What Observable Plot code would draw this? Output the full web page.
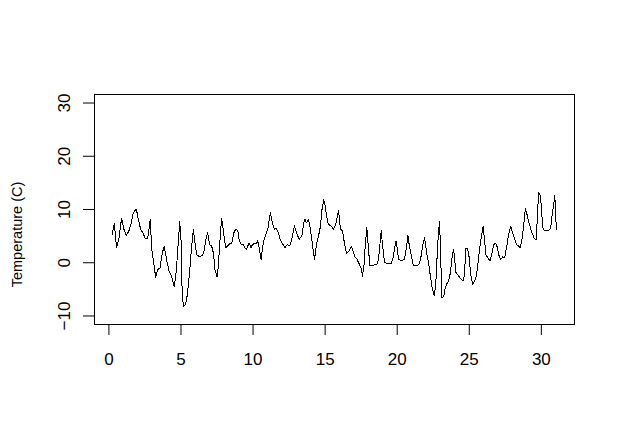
<!DOCTYPE html>
<html>
<head>
<meta charset="utf-8">
<script src="https://cdn.jsdelivr.net/npm/d3@7"></script>
<script src="https://cdn.jsdelivr.net/npm/@observablehq/plot@0.6"></script>
<style>
  html, body { margin: 0; padding: 0; background: #ffffff; }
  #chart svg { font-family: "Liberation Sans", Arial, sans-serif; }
</style>
</head>
<body>
<div id="chart"></div>
<script>
const days = [
  0.23,0.37,0.53,0.69,0.88,1.04,1.20,1.39,1.53,1.69,1.90,2.04,2.20,2.38,2.52,2.69,2.87,2.96,3.08,3.24,
  3.38,3.54,3.70,3.84,4.00,4.17,4.35,4.54,4.68,4.81,4.91,5.00,5.09,5.20,5.28,5.39,5.51,5.63,5.74,5.86,
  5.97,6.09,6.25,6.44,6.57,6.71,6.85,6.99,7.13,7.25,7.36,7.50,7.59,7.71,7.82,7.96,8.10,8.24,8.38,8.52,
  8.66,8.80,8.94,9.03,9.17,9.31,9.40,9.54,9.63,9.72,9.86,9.95,10.09,10.23,10.32,10.42,10.56,10.65,10.74,10.93,
  11.02,11.20,11.34,11.48,11.62,11.76,11.88,12.04,12.22,12.36,12.55,12.69,12.87,13.03,13.19,13.38,13.52,13.61,13.70,13.84,
  13.98,14.12,14.26,14.40,14.54,14.68,14.77,14.91,15.00,15.14,15.23,15.42,15.58,15.74,15.93,16.06,16.20,16.34,16.48,16.67,
  16.81,16.94,17.04,17.20,17.36,17.50,17.59,17.69,17.78,17.89,18.01,18.10,18.24,18.43,18.59,18.70,18.80,18.89,18.98,19.12,
  19.28,19.44,19.58,19.68,19.79,19.91,20.02,20.09,20.23,20.37,20.51,20.65,20.74,20.83,20.97,21.11,21.30,21.48,21.62,21.76,
  21.90,22.06,22.18,22.29,22.41,22.52,22.59,22.69,22.78,22.87,22.94,23.01,23.10,23.22,23.33,23.45,23.56,23.68,23.80,23.91,
  23.98,24.07,24.21,24.38,24.49,24.61,24.68,24.77,24.88,25.00,25.09,25.23,25.37,25.49,25.60,25.74,25.88,25.97,26.06,26.16,
  26.30,26.44,26.57,26.69,26.81,26.92,27.04,27.18,27.31,27.45,27.62,27.73,27.87,28.01,28.15,28.29,28.43,28.54,28.66,28.77,
  28.89,28.98,29.07,29.21,29.35,29.49,29.63,29.72,29.81,29.91,30.00,30.09,30.19,30.32,30.51,30.65,30.74,30.86,30.93,30.97,
  31.02,31.06
];
const temps = [
  5.3,7.4,2.9,4.5,8.4,6.3,5.1,6.0,7.2,9.4,10.1,8.2,6.3,5.5,4.5,4.5,8.2,2.8,0.6,-2.7,
  -1.3,-1.0,1.8,3.1,0.6,-1.6,-2.6,-4.5,-1.3,3.7,7.7,4.4,-6.7,-8.2,-8.0,-7.0,-4.2,-0.7,3.1,6.3,
  3.7,1.5,1.2,1.3,1.8,4.1,5.6,3.4,3.1,1.8,-1.3,-2.6,-0.7,4.4,8.4,5.6,2.8,3.2,3.6,3.7,
  5.6,6.3,6.1,4.4,3.4,3.4,3.0,2.4,3.1,3.7,2.8,3.4,3.6,3.6,4.1,2.8,0.5,2.8,4.1,5.6,
  6.3,9.4,7.5,6.3,6.4,5.6,4.4,3.6,2.8,3.4,3.2,4.4,6.9,5.6,4.4,5.0,7.5,8.2,7.5,8.2,
  6.3,3.4,0.6,3.4,5.0,6.9,9.8,11.8,10.7,8.2,7.2,6.9,6.3,7.2,9.9,6.3,6.0,3.7,1.8,2.2,
  3.1,2.2,1.2,0.7,-0.2,-1.0,-2.5,-0.7,3.1,6.6,2.5,-0.5,-0.6,-0.4,-0.4,0.6,3.4,6.0,3.4,0.1,
  -0.1,-0.1,-0.1,0.5,2.2,4.1,2.5,0.6,0.5,0.5,0.7,3.1,5.1,3.4,1.5,-0.4,-0.6,-0.4,0.6,3.1,
  4.7,1.5,-0.1,-2.3,-4.5,-5.8,-6.1,-3.2,1.8,6.0,7.7,1.8,-6.5,-6.4,-4.8,-3.9,-3.5,-2.0,0.9,2.5,
  0.9,-1.8,-2.3,-2.9,-3.2,-3.4,-1.3,2.7,2.7,0.9,-2.0,-4.0,-3.4,-2.6,-0.1,3.1,5.6,6.9,4.1,1.5,
  0.9,0.3,1.8,3.4,3.7,3.1,1.5,0.6,1.1,0.9,3.4,5.3,6.9,5.6,4.4,3.4,3.1,2.8,4.4,6.9,
  10.2,9.4,8.2,6.9,5.6,4.7,4.3,8.2,13.2,12.7,10.7,6.6,6.1,6.0,6.0,6.6,8.8,11.0,12.6,10.7,
  7.5,6.3
];
const xTicks = [0, 5, 10, 15, 20, 25, 30];
const yTicks = [-10, 0, 10, 20, 30];
const yTitle = ["Temperature (C)"];

const rows = days.map((d, i) => ({day: d, temp: temps[i]}));

const chart = Plot.plot({
  width: 623,
  height: 442,
  marginLeft: 94,
  marginRight: 49,
  marginTop: 94,
  marginBottom: 118,
  style: {background: "#ffffff", color: "#000000", fontSize: "17px", fontFamily: "'Liberation Sans', Arial, sans-serif"},
  x: {domain: [-1.0, 32.3]},
  y: {domain: [-11.6, 31.6]},
  marks: [
    Plot.frame({stroke: "#000000", strokeWidth: 1}),
    Plot.axisX({ticks: xTicks, tickSize: 11, tickPadding: 17, label: null, fontSize: 17, stroke: "#000000", fill: "#000000"}),
    Plot.axisY({ticks: yTicks, tickSize: 11, text: null, label: null, stroke: "#000000"}),
    Plot.axisY({ticks: yTicks, tickSize: 0, tickPadding: 25, label: null, fontSize: 17, rotate: -90, textAnchor: "middle", lineAnchor: "bottom", fill: "#000000"}),
    Plot.line(rows, {x: "day", y: "temp", stroke: "#000000", strokeWidth: 1, shapeRendering: "crispEdges"}),
    Plot.text(yTitle, {text: d => d, frameAnchor: "left", textAnchor: "middle", dx: -77, dy: 25, rotate: -90, fontSize: 14.5, fill: "#000000"})
  ]
});
document.getElementById("chart").appendChild(chart);
</script>
</body>
</html>
